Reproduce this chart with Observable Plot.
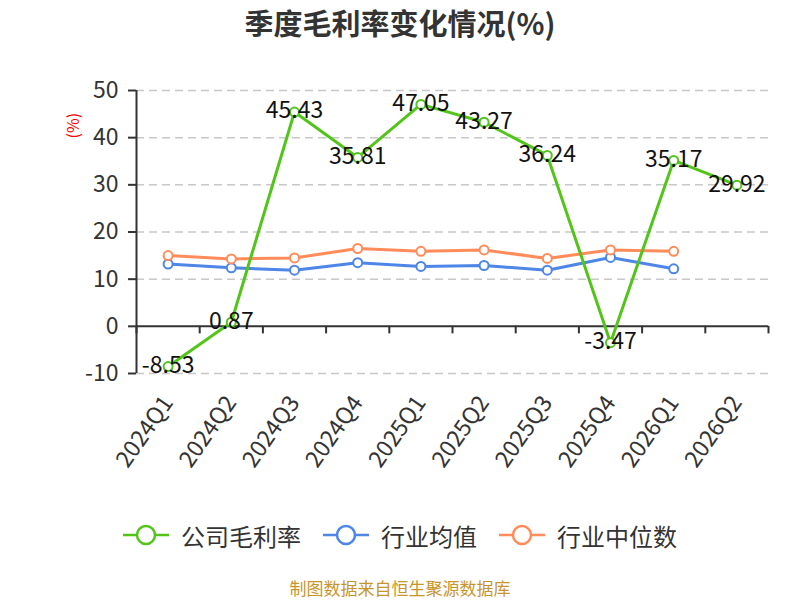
<!DOCTYPE html>
<html>
<head>
<meta charset="utf-8">
<script src="https://cdn.jsdelivr.net/npm/d3@7"></script>
<script src="https://cdn.jsdelivr.net/npm/@observablehq/plot@0.6"></script>
<style>
  html, body { margin: 0; padding: 0; background: #fff; }
  body { width: 800px; height: 600px; position: relative; overflow: hidden;
         font-family: "Noto Sans CJK SC", "Noto Sans", sans-serif; }
  #title { position: absolute; top: 0; left: 0; width: 800px; height: 44px; line-height: 44px;
           text-align: center; font-size: 29px; font-weight: bold; color: #333; }
  #chart { position: absolute; top: 50px; left: 0; }
  #legend { position: absolute; top: 515px; left: 0; width: 800px; height: 40px;
            display: flex; justify-content: center; align-items: center; gap: 22px;
            font-size: 24px; color: #333; }
  .item { display: flex; align-items: center; gap: 12px; }
  #footer { position: absolute; top: 578px; left: 0; width: 800px; height: 20px; line-height: 20px;
            text-align: center; font-size: 17px; color: #c8952d; }
</style>
</head>
<body>
<div id="title">季度毛利率变化情况(%)</div>
<div id="chart"></div>
<div id="legend"></div>
<div id="footer">制图数据来自恒生聚源数据库</div>
<script>
const quarters = ["2024Q1","2024Q2","2024Q3","2024Q4","2025Q1","2025Q2","2025Q3","2025Q4","2026Q1","2026Q2"];
const companyMargin = [-8.53, 0.87, 45.43, 35.81, 47.05, 43.27, 36.24, -3.47, 35.17, 29.92];
const industryMean = [13.2, 12.4, 11.9, 13.5, 12.7, 12.9, 11.9, 14.6, 12.2];
const industryMedian = [15.0, 14.3, 14.5, 16.5, 15.9, 16.2, 14.4, 16.2, 15.9];
const yTicks = [-10, 0, 10, 20, 30, 40, 50];
const seriesNames = ["公司毛利率", "行业均值", "行业中位数"];
const seriesColors = ["#52c41a", "#4e86e8", "#ff8c5a"];

const toRows = arr => arr.map((v, i) => ({i, q: quarters[i], v}));
const company = toRows(companyMargin);
const mean = toRows(industryMean);
const median = toRows(industryMedian);
const boundaries = d3.range(quarters.length + 1).map(k => k - 0.5);

const chart = Plot.plot({
  width: 800,
  height: 440,
  marginLeft: 136,
  marginRight: 32,
  marginTop: 40,
  marginBottom: 117,
  style: {fontFamily: '"Noto Sans CJK SC", "Noto Sans", sans-serif', background: "#fff"},
  x: {domain: [-0.5, quarters.length - 0.5], axis: null},
  y: {domain: [-10, 50], axis: null},
  marks: [
    Plot.ruleY(yTicks.filter(t => t !== 0), {stroke: "#c8c8c8", strokeWidth: 1.5, strokeDasharray: "8,5"}),
    Plot.ruleY([0], {stroke: "#333", strokeWidth: 2}),
    Plot.ruleX([-0.5], {y1: -10, y2: 50, stroke: "#333", strokeWidth: 2}),
    Plot.ruleX(boundaries, {y1: 0, y2: -1.6, stroke: "#333", strokeWidth: 2}),
    Plot.axisY({ticks: yTicks, tickFormat: d => String(d), tickSize: 8, tickPadding: 10, fontSize: 23,
                color: "#333", strokeWidth: 2, label: null}),
    Plot.axisX({ticks: d3.range(quarters.length), tickFormat: i => quarters[i], tickSize: 0,
                tickPadding: 25, tickRotate: -55, fontSize: 23, color: "#333", label: null}),
    Plot.text(["(%)"], {frameAnchor: "top-left", dx: -69, dy: 48, rotate: -90, fill: "red", fontSize: 16}),
    Plot.line(mean, {x: "i", y: "v", stroke: seriesColors[1], strokeWidth: 3}),
    Plot.line(median, {x: "i", y: "v", stroke: seriesColors[2], strokeWidth: 3}),
    Plot.dot(mean, {x: "i", y: "v", r: 4.5, fill: "white", stroke: seriesColors[1], strokeWidth: 2}),
    Plot.dot(median, {x: "i", y: "v", r: 4.5, fill: "white", stroke: seriesColors[2], strokeWidth: 2}),
    Plot.line(company, {x: "i", y: "v", stroke: seriesColors[0], strokeWidth: 3}),
    Plot.dot(company, {x: "i", y: "v", r: 4.5, fill: "white", stroke: seriesColors[0], strokeWidth: 2}),
    Plot.text(company, {x: "i", y: "v", text: d => d.v.toFixed(2), fontSize: 23, fill: "#111", dy: -1})
  ]
});
document.getElementById("chart").appendChild(chart);

const legend = document.getElementById("legend");
seriesNames.forEach((name, k) => {
  const item = document.createElement("div");
  item.className = "item";
  item.innerHTML = `<svg width="46" height="22"><line x1="0" y1="11" x2="46" y2="11" stroke="${seriesColors[k]}" stroke-width="2.5"/><circle cx="23" cy="11" r="9" fill="white" stroke="${seriesColors[k]}" stroke-width="2.5"/></svg><span>${name}</span>`;
  legend.appendChild(item);
});
</script>
</body>
</html>
